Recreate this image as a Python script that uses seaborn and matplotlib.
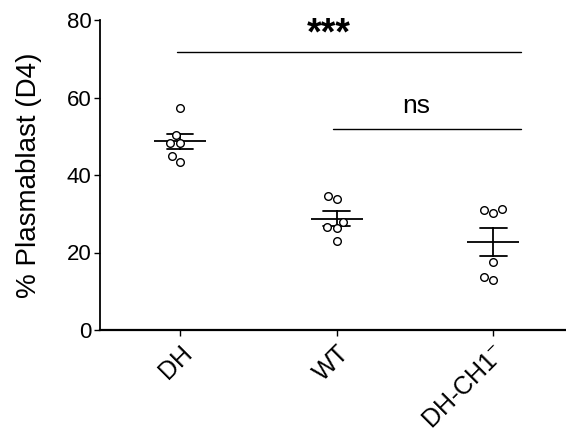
import pandas as pd
import matplotlib
matplotlib.use("Agg")
import matplotlib.pyplot as plt
import seaborn as sns

# Values
groups = ["DH", "WT", "DH-CH1-"]
dh_values = [57.2, 50.3, 48.2, 48.2, 44.8, 43.4]
wt_values = [33.9, 34.6, 28.0, 26.7, 26.3, 22.9]
ch1_values = [31.3, 30.2, 31.0, 17.5, 13.7, 12.9]
tick_labels = ["DH", "WT", r"DH-CH1$^{-}$"]

df = pd.DataFrame({
    "group": [groups[0]] * len(dh_values) + [groups[1]] * len(wt_values) + [groups[2]] * len(ch1_values),
    "value": dh_values + wt_values + ch1_values,
})

sns.set_style("ticks")
plt.rcParams["font.family"] = ["Liberation Sans", "DejaVu Sans"]
plt.rcParams["mathtext.fontset"] = "custom"
plt.rcParams["mathtext.rm"] = "Liberation Sans"
plt.rcParams["mathtext.it"] = "Liberation Sans"
for key in ["text.color", "axes.labelcolor", "xtick.color", "ytick.color", "axes.edgecolor"]:
    plt.rcParams[key] = "black"

fig = plt.figure(figsize=(5.66, 4.41), dpi=100)
ax = fig.add_axes([100 / 566, 1 - 330 / 441, 466 / 566, 310 / 441])

# individual points
sns.swarmplot(data=df, x="group", y="value", order=groups, ax=ax, size=5.5,
              color="white", edgecolor="black", linewidth=1.0)

# mean +/- SEM
sns.pointplot(data=df, x="group", y="value", order=groups, ax=ax, errorbar="se",
              capsize=0.17, linestyle="none", marker="_", markersize=37,
              markeredgewidth=1.3, color="black", err_kws={"linewidth": 1.3})

# significance bars
ax.plot([-0.02, 2.18], [71.7, 71.7], color="black", lw=1.0)
ax.text(0.95, 76.3, "***", ha="center", va="center", fontsize=27, fontweight="bold")
ax.plot([0.98, 2.18], [51.9, 51.9], color="black", lw=1.0)
ax.text(1.51, 57.8, "ns", ha="center", va="center", fontsize=19)

ax.set_xlim(-0.51, 2.464)
ax.set_ylim(0, 80)
ax.set_yticks([0, 20, 40, 60, 80])
ax.set_xticks([0, 1, 2])
ax.set_xticklabels(tick_labels, rotation=45, ha="right", rotation_mode="anchor", fontsize=18)
ax.tick_params(axis="y", labelsize=16, length=4, width=1.0, pad=2)
ax.tick_params(axis="x", length=4, width=1.0, pad=4)
ax.set_xlabel("")
ax.set_ylabel("% Plasmablast (D4)", fontsize=20, labelpad=18)

sns.despine(ax=ax, top=True, right=True)
ax.spines["left"].set_linewidth(1.3)
ax.spines["bottom"].set_linewidth(1.6)

fig.savefig("out.png", dpi=100)
